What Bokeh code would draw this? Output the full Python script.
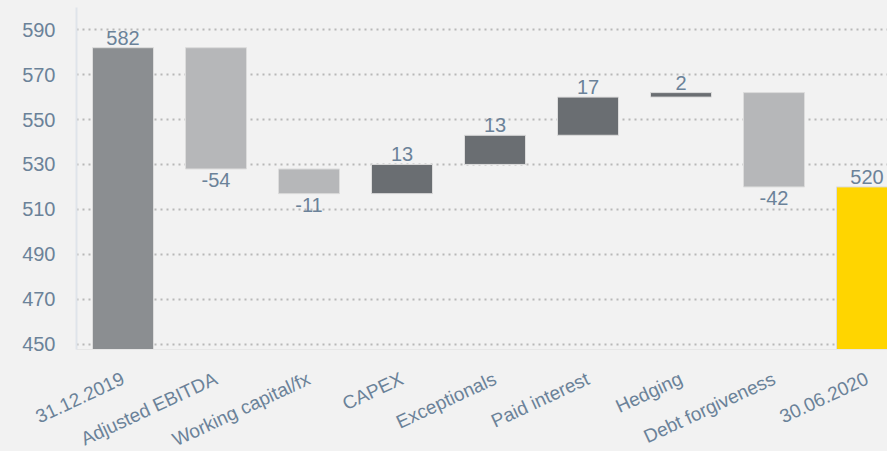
import numpy as np
from bokeh.plotting import figure
from bokeh.models import ColumnDataSource, LabelSet, FixedTicker, Range1d
from bokeh.core.properties import value
from bokeh.embed import file_html
from bokeh.resources import INLINE

categories = ["31.12.2019", "Adjusted EBITDA", "Working capital/fx", "CAPEX",
              "Exceptionals", "Paid interest", "Hedging", "Debt forgiveness", "30.06.2020"]
values = [582, -54, -11, 13, 13, 17, 2, -42, 520]
kinds = ["start", "delta", "delta", "delta", "delta", "delta", "delta", "delta", "end"]
y_ticks = [450, 470, 490, 510, 530, 550, 570, 590]

palette = {"start": "#8b8e91", "neg": "#b6b7b9", "pos": "#6a6e72", "end": "#ffd500"}
label_color = "#6b8299"
font = "Liberation Sans"

x = list(range(len(categories)))
bottoms, tops, colors = [], [], []
level = 0
for v, k in zip(values, kinds):
    if k in ("start", "end"):
        b, t = 0, v
        level = v
        colors.append(palette[k])
    else:
        b, t = min(level, level + v), max(level, level + v)
        level += v
        colors.append(palette["pos"] if v > 0 else palette["neg"])
    bottoms.append(b)
    tops.append(t)

src = ColumnDataSource(dict(x=x, bottom=bottoms, top=tops, color=colors))

up_idx = [i for i, v in enumerate(values) if v > 0]
dn_idx = [i for i, v in enumerate(values) if v < 0]
src_up = ColumnDataSource(dict(x=[x[i] for i in up_idx], y=[tops[i] for i in up_idx],
                               t=[str(values[i]) for i in up_idx]))
src_dn = ColumnDataSource(dict(x=[x[i] for i in dn_idx], y=[bottoms[i] for i in dn_idx],
                               t=[str(values[i]) for i in dn_idx]))

p = figure(width=887, height=462, output_backend="svg", toolbar_location=None,
           x_range=Range1d(-0.5, -0.5 + 811 / 93), y_range=Range1d(447.6, 599.9),
           min_border_left=76, min_border_right=0, min_border_top=7, min_border_bottom=101)
p.background_fill_color = "#f2f2f2"
p.border_fill_color = "#f2f2f2"
p.outline_line_color = None

p.vbar(x="x", bottom="bottom", top="top", width=61 / 93, fill_color="color",
       line_color="#dcdcdc", line_width=1, source=src)

p.add_layout(LabelSet(x="x", y="y", text="t", source=src_up, text_align="center",
                      text_baseline="alphabetic", y_offset=3, text_font=value(font),
                      text_font_size="20px", text_color=label_color))
p.add_layout(LabelSet(x="x", y="y", text="t", source=src_dn, text_align="center",
                      text_baseline="top", y_offset=-4, text_font=value(font),
                      text_font_size="20px", text_color=label_color))

p.xgrid.grid_line_color = None
p.ygrid.grid_line_color = "#b8b8b8"
p.ygrid.grid_line_dash = "2 4"
p.ygrid.grid_line_width = 2
p.yaxis.ticker = FixedTicker(ticks=y_ticks)
p.yaxis.axis_line_color = "#dfe4ea"
p.yaxis.axis_line_width = 2
p.yaxis.major_tick_line_color = None
p.yaxis.minor_tick_line_color = None
p.yaxis.major_label_standoff = 15
p.yaxis.major_label_text_font = font
p.yaxis.major_label_text_font_size = "20px"
p.yaxis.major_label_text_color = label_color

p.xaxis.ticker = FixedTicker(ticks=x)
p.xaxis.major_label_overrides = {i: c for i, c in zip(x, categories)}
p.xaxis.major_label_orientation = 0.436
p.xaxis.axis_line_color = "#e6e6e6"
p.xaxis.major_tick_line_color = None
p.xaxis.minor_tick_line_color = None
p.xaxis.major_label_standoff = 22
p.xaxis.major_label_text_font = font
p.xaxis.major_label_text_font_size = "19px"
p.xaxis.major_label_text_color = label_color

html = file_html(p, INLINE)
html = html.replace("<head>", "<head><style>html,body{background:#f2f2f2;overflow:hidden;}</style>", 1)
open("out.html", "w").write(html)
